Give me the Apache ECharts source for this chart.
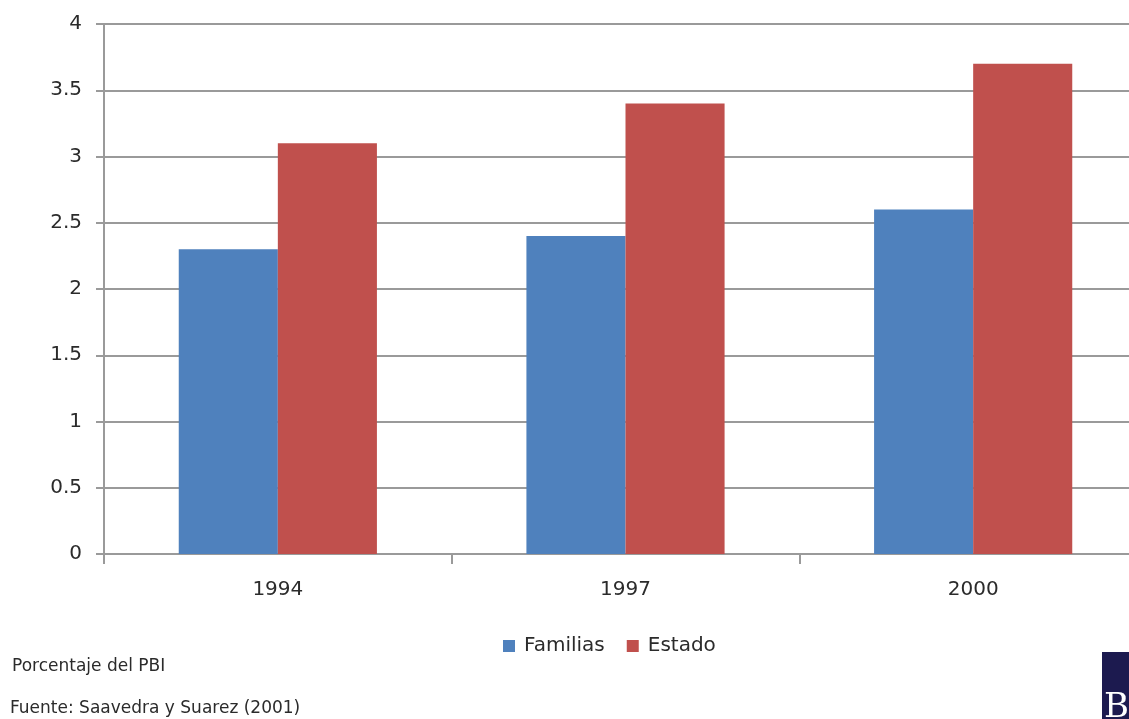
<!DOCTYPE html>
<html>
<head>
<meta charset="utf-8">
<script src="https://cdn.jsdelivr.net/npm/echarts@6/dist/echarts.min.js"></script>
<style>
    html, body { margin: 0; padding: 0; background: #fff; overflow: hidden; }
</style>
</head>
<body>
<div id="main" style="width: 1129px;height:719px;"></div>
<script type="text/javascript">
    var years = ['1994', '1997', '2000'];
    var familias = [2.3, 2.4, 2.6];
    var estado = [3.1, 3.4, 3.7];
    var seriesNames = ['Familias', 'Estado'];

    var myChart = echarts.init(document.getElementById('main'));

    var font = '"DejaVu Sans", "Noto Sans", sans-serif';

    var option = {
        animation: false,
        backgroundColor: '#ffffff',
        textStyle: { fontFamily: font },
        grid: {
            left: 104,
            width: 1043,
            top: 24,
            height: 530,
            outerBoundsMode: 'none'
        },
        legend: {
            data: seriesNames,
            left: 498,
            top: 631,
            itemWidth: 12,
            itemHeight: 12,
            itemGap: 22,
            icon: 'rect',
            textStyle: { fontSize: 20, color: '#2b2b2b', fontFamily: font, padding: [0, 0, 0, 4] }
        },
        xAxis: {
            type: 'category',
            data: years,
            axisLine: { lineStyle: { color: '#9a9a9a', width: 2 } },
            axisTick: { show: true, length: 10, lineStyle: { color: '#9a9a9a', width: 2 } },
            axisLabel: { fontSize: 20, color: '#2b2b2b', margin: 26 }
        },
        yAxis: {
            type: 'value',
            min: 0,
            max: 4,
            interval: 0.5,
            axisLine: { show: true, lineStyle: { color: '#9a9a9a', width: 2 } },
            axisTick: { show: true, length: 8, lineStyle: { color: '#9a9a9a', width: 2 } },
            axisLabel: { fontSize: 20, color: '#2b2b2b', margin: 22 },
            splitLine: { lineStyle: { color: '#9a9a9a', width: 2 } }
        },
        series: [
            {
                name: seriesNames[0],
                type: 'bar',
                data: familias,
                barGap: '0%',
                barCategoryGap: '43%',
                itemStyle: { color: '#4F81BD' }
            },
            {
                name: seriesNames[1],
                type: 'bar',
                data: estado,
                barGap: '0%',
                barCategoryGap: '43%',
                itemStyle: { color: '#C0504D' }
            }
        ],
        graphic: [
            {
                type: 'text',
                left: 12,
                top: 658,
                style: { text: 'Porcentaje del PBI', fontSize: 17, fill: '#2b2b2b', fontFamily: font }
            },
            {
                type: 'text',
                left: 10,
                top: 700,
                style: { text: 'Fuente: Saavedra y Suarez (2001)', fontSize: 17, fill: '#2b2b2b', fontFamily: font }
            },
            {
                type: 'rect',
                shape: { x: 1102, y: 652, width: 27, height: 67 },
                style: { fill: '#1c1a4f' }
            },
            {
                type: 'text',
                x: 1104,
                y: 708,
                style: {
                    text: 'B', fontSize: 34, fill: '#ffffff', verticalAlign: 'middle',
                    fontFamily: '"DejaVu Serif", "Liberation Serif", serif'
                }
            }
        ]
    };

    myChart.setOption(option);
</script>
</body>
</html>
